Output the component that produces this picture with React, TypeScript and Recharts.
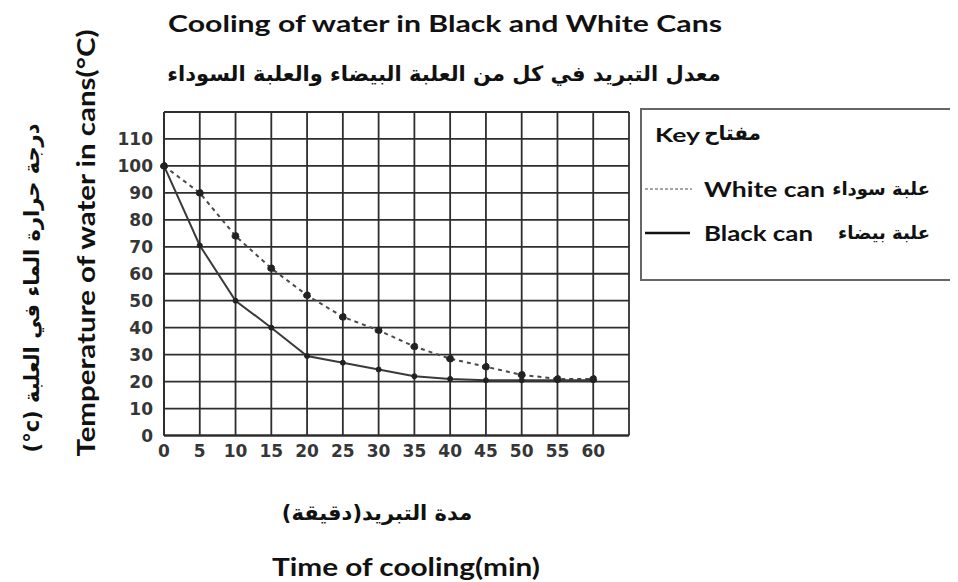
import React from 'react';
import {
  LineChart,
  Line,
  XAxis,
  YAxis,
  CartesianGrid
} from 'recharts';

// Time of cooling (min)
const times = [0, 5, 10, 15, 20, 25, 30, 35, 40, 45, 50, 55, 60];
// Water temperature (°C)
const whiteCan = [100, 90, 74, 62, 52, 44, 39, 33, 28.5, 25.5, 22.5, 21, 21];
const blackCan = [100, 70.5, 50, 40, 29.5, 27, 24.5, 22, 21, 20.5, 20.5, 20.5, 20.5];

const xTicks = [0, 5, 10, 15, 20, 25, 30, 35, 40, 45, 50, 55, 60, 65];
const yTicks = [0, 10, 20, 30, 40, 50, 60, 70, 80, 90, 100, 110, 120];

const data = times.map((t, i) => ({ time: t, white: whiteCan[i], black: blackCan[i] }));

const W = 950;
const H = 574;
const LATIN = 'Lato, "Open Sans", sans-serif';
const ARABIC = '"DejaVu Sans", sans-serif';
const GRID = '#2e2e2e';

const tickStyle = { fontFamily: '"DejaVu Sans", sans-serif', fontWeight: 700, fontSize: 17, fill: '#363636' };

// Labels, title and key drawn on top of the chart
function Overlay() {
  return (
    <svg
      width={W}
      height={H}
      style={{ position: 'absolute', left: 0, top: 0, pointerEvents: 'none' }}
    >
      <g fontWeight={700} fill="#111">
        <text x={437} y={15} textAnchor="middle" dominantBaseline="central"
          fontFamily={LATIN} fontSize={23} textLength={554} lengthAdjust="spacingAndGlyphs">
          Cooling of water in Black and White Cans
        </text>
        <text x={436} y={66} textAnchor="middle" dominantBaseline="central" direction="rtl"
          fontFamily={ARABIC} fontSize={21}>
          معدل التبريد في كل من العلبة البيضاء والعلبة السوداء
        </text>

        <text transform="translate(77,235) rotate(-90)" textAnchor="middle" dominantBaseline="central"
          fontFamily={LATIN} fontSize={24} textLength={427} lengthAdjust="spacingAndGlyphs">
          Temperature of water in cans(°C)
        </text>
        <text transform="translate(24,280) rotate(-90)" textAnchor="middle" dominantBaseline="central"
          direction="rtl" style={{ direction: 'rtl', unicodeBidi: 'embed' }}
          fontFamily={ARABIC} fontSize={21}>
          {'درجة حرارة الماء في العلبة \u2066(°c)\u2069'}
        </text>

        <text x={369} y={505} textAnchor="middle" dominantBaseline="central"
          direction="rtl" style={{ direction: 'rtl', unicodeBidi: 'embed' }}
          fontFamily={ARABIC} fontSize={21}>
          مدة التبريد(دقيقة)
        </text>
        <text x={398} y={558} textAnchor="middle" dominantBaseline="central"
          fontFamily={LATIN} fontSize={24} textLength={268} lengthAdjust="spacingAndGlyphs">
          Time of cooling(min)
        </text>
      </g>

      {/* key */}
      <rect x={633} y={101} width={330} height={171} fill="#fff" stroke="#666" strokeWidth={2} />
      <g fontWeight={700} fill="#111">
        <text x={647} y={126} dominantBaseline="central" fontFamily={LATIN} fontSize={19}
          textLength={45} lengthAdjust="spacingAndGlyphs">Key</text>
        <text x={753} y={125} textAnchor="end" dominantBaseline="central" fontFamily={ARABIC} fontSize={20}>مفتاح</text>

        <line x1={637} x2={684} y1={181} y2={181} stroke="#888" strokeWidth={1.5} strokeDasharray="3 2" />
        <text x={696} y={180} dominantBaseline="central" fontFamily={LATIN} fontSize={21}
          textLength={121} lengthAdjust="spacingAndGlyphs">White can</text>
        <text x={922} y={180} textAnchor="end" dominantBaseline="central" fontFamily={ARABIC} fontSize={18}>علبة سوداء</text>

        <line x1={637} x2={682} y1={225} y2={225} stroke="#111" strokeWidth={2.5} />
        <text x={696} y={224} dominantBaseline="central" fontFamily={LATIN} fontSize={21}
          textLength={109} lengthAdjust="spacingAndGlyphs">Black can</text>
        <text x={922} y={224} textAnchor="end" dominantBaseline="central" fontFamily={ARABIC} fontSize={18}>علبة بيضاء</text>
      </g>
    </svg>
  );
}

export default function App() {
  return (
    <div style={{ position: 'relative', width: W, height: H }}>
      <LineChart
        width={W}
        height={H}
        data={data}
        margin={{ top: 104, right: 329, left: 0, bottom: 116.5 }}
      >
        <CartesianGrid stroke={GRID} strokeWidth={1.8} />
        <XAxis
          dataKey="time"
          type="number"
          domain={[0, 65]}
          ticks={xTicks}
          interval={0}
          tickFormatter={(v) => (v === 65 ? '' : String(v))}
          tick={tickStyle}
          tickLine={false}
          tickSize={0}
          tickMargin={9}
          height={30}
          axisLine={{ stroke: GRID, strokeWidth: 2 }}
        />
        <YAxis
          type="number"
          domain={[0, 120]}
          ticks={yTicks}
          interval={0}
          tickFormatter={(v) => (v === 120 ? '' : String(v))}
          tick={tickStyle}
          tickLine={false}
          tickSize={0}
          tickMargin={11}
          width={156}
          axisLine={{ stroke: GRID, strokeWidth: 2 }}
        />
        <Line
          type="linear"
          dataKey="white"
          stroke="#4a4a4a"
          strokeWidth={2}
          strokeDasharray="4 4"
          dot={{ r: 3.5, fill: '#222', stroke: '#222', strokeWidth: 1 }}
          isAnimationActive={false}
        />
        <Line
          type="linear"
          dataKey="black"
          stroke="#3a3a3a"
          strokeWidth={2}
          dot={{ r: 2.5, fill: '#222', stroke: '#222', strokeWidth: 1 }}
          isAnimationActive={false}
        />
      </LineChart>
      <Overlay />
    </div>
  );
}
